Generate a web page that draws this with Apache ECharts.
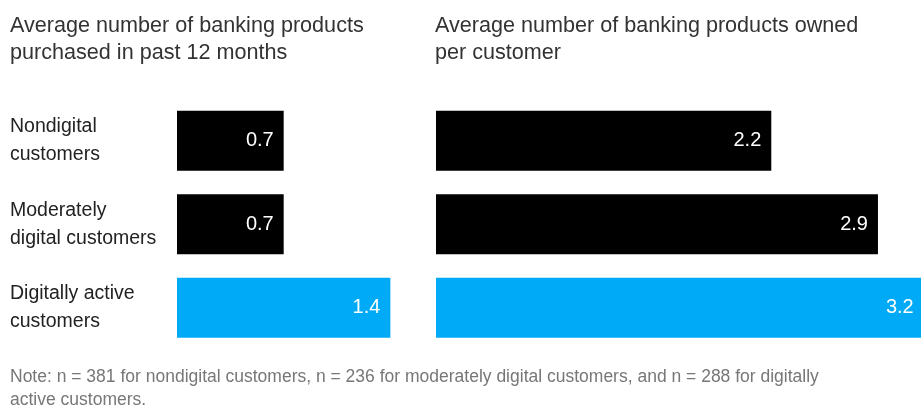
<!DOCTYPE html>
<html>
<head>
<meta charset="utf-8">
<script src="https://cdn.jsdelivr.net/npm/echarts@6/dist/echarts.min.js"></script>
<style>html,body{margin:0;padding:0;background:#fff;}#c{width:921px;height:408px;}</style>
</head>
<body>
<div id="c"></div>
<script>
const categories = ['Nondigital\ncustomers', 'Moderately\ndigital customers', 'Digitally active\ncustomers'];
const purchased = [0.7, 0.7, 1.4];
const owned = [2.2, 2.9, 3.2];
const titleLeft = 'Average number of banking products\npurchased in past 12 months';
const titleRight = 'Average number of banking products owned\nper customer';
const note = 'Note: n = 381 for nondigital customers, n = 236 for moderately digital customers, and n = 288 for digitally\nactive customers.';
const barColors = ['#000000', '#000000', '#00AAF6'];

const chart = echarts.init(document.getElementById('c'));
const sans = '"Liberation Sans", Arial, Helvetica, sans-serif';
const PX = 152.4;
function mk(vals){ return vals.map((v,i)=>({value:v, itemStyle:{color:barColors[i]}})); }
const labelCfg = {show:true, position:'insideRight', distance:10, color:'#fff', fontFamily:sans, fontSize:20};

chart.setOption({
  animation:false,
  title:[
    {text:titleLeft, left:10, top:13, padding:0, textStyle:{fontFamily:sans, fontSize:21.6, fontWeight:'normal', color:'#333', lineHeight:27}},
    {text:titleRight, left:435, top:13, padding:0, textStyle:{fontFamily:sans, fontSize:21.6, fontWeight:'normal', color:'#333', lineHeight:27}},
    {text:note, left:10, top:366, padding:0, textStyle:{fontFamily:sans, fontSize:17.5, fontWeight:'normal', color:'#777', lineHeight:23}}
  ],
  grid:[
    {left:177, top:99, width:PX*2, height:250.5, outerBoundsMode:'none', containLabel:false},
    {left:436, top:99, width:PX*4, height:250.5, outerBoundsMode:'none', containLabel:false}
  ],
  xAxis:[
    {gridIndex:0, type:'value', min:0, max:2, show:false},
    {gridIndex:1, type:'value', min:0, max:4, show:false}
  ],
  yAxis:[
    {gridIndex:0, type:'category', data:categories, inverse:true, axisLine:{show:false}, axisTick:{show:false}, splitLine:{show:false},
     axisLabel:{align:'left', margin:167, fontFamily:sans, fontSize:19.5, lineHeight:28, color:'#222'}},
    {gridIndex:1, type:'category', data:categories, inverse:true, show:false}
  ],
  series:[
    {type:'bar', xAxisIndex:0, yAxisIndex:0, data:mk(purchased), barWidth:60, label:labelCfg},
    {type:'bar', xAxisIndex:1, yAxisIndex:1, data:mk(owned), barWidth:60, label:labelCfg}
  ]
});
</script>
</body>
</html>
